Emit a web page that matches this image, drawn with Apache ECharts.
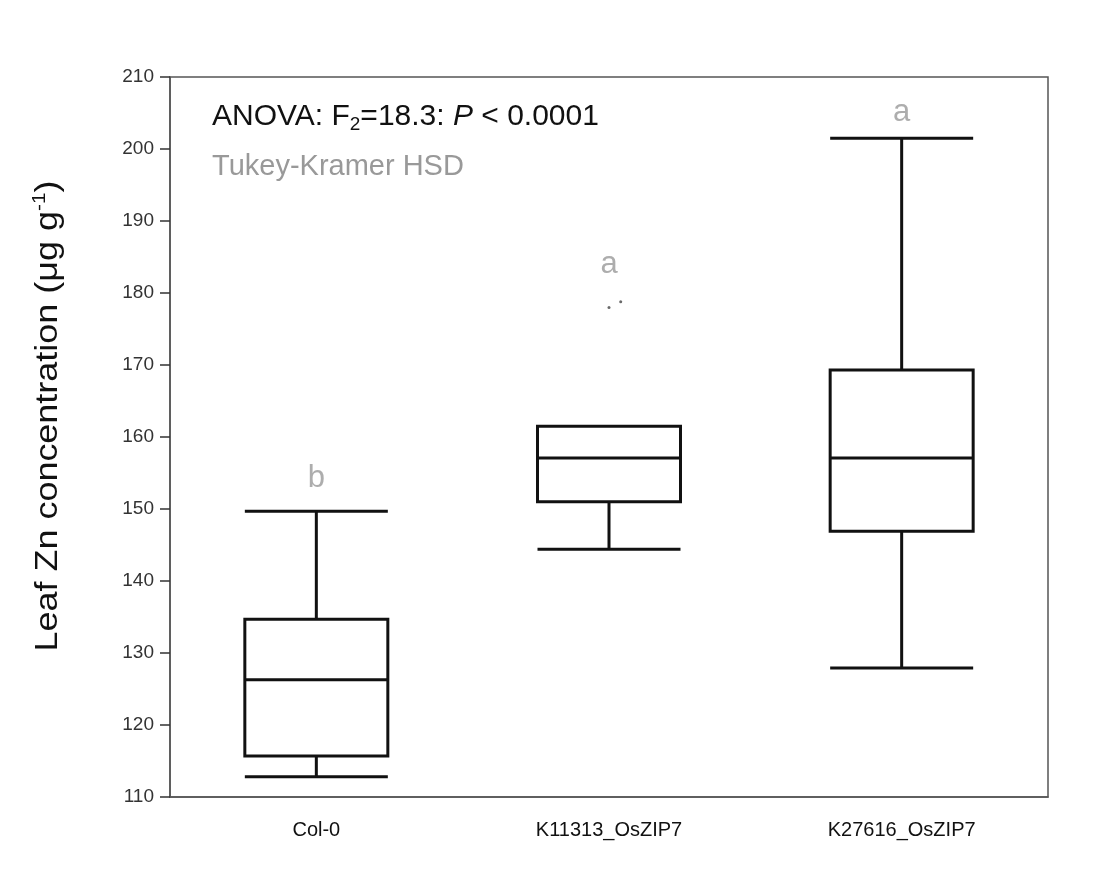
<!DOCTYPE html>
<html><head><meta charset="utf-8">
<script src="https://cdn.jsdelivr.net/npm/echarts@6/dist/echarts.min.js"></script>
<style>html,body{margin:0;padding:0;background:#fff;}#c{width:1118px;height:878px;}</style>
</head><body><div id="c"></div>
<script>
var categories = ['Col-0', 'K11313_OsZIP7', 'K27616_OsZIP7'];
// [lower whisker, Q1, median, Q3, upper whisker]
var boxStats = [
  [112.8, 115.7, 126.3, 134.7, 149.7],
  [144.4, 151.0, 157.1, 161.5, 161.5],
  [127.9, 146.9, 157.1, 169.3, 201.5]
];
// outliers: [position on category scale, value]
var outliers = [[1.0, 178.0], [1.04, 178.8]];
var groupLetters = ['b', 'a', 'a'];
var letterHeights = [154.3, 183.9, 205.1];
var yTicks = [110, 120, 130, 140, 150, 160, 170, 180, 190, 200, 210];

var chart = echarts.init(document.getElementById('c'), null, {renderer: 'canvas'});
var FONT = 'Liberation Sans';
chart.setOption({
  backgroundColor: '#ffffff',
  animation: false,
  textStyle: {fontFamily: FONT},
  grid: {left: 170, right: 70, top: 77, bottom: 81, show: true, borderColor: '#555', borderWidth: 1.5, backgroundColor: 'transparent'},
  xAxis: [{
    type: 'category', data: categories,
    axisLine: {lineStyle: {color: '#555', width: 1.5}},
    axisTick: {show: false},
    axisLabel: {color: '#111', fontSize: 20, margin: 23, fontFamily: FONT},
    splitLine: {show: false}
  }, {
    type: 'value', min: -0.5, max: 2.5, show: false
  }],
  yAxis: {
    type: 'value', min: yTicks[0], max: yTicks[yTicks.length - 1], interval: 10,
    axisLine: {show: true, onZero: false, lineStyle: {color: '#555', width: 1.5}},
    axisTick: {show: true, length: 10, lineStyle: {color: '#333', width: 1.5}},
    axisLabel: {color: '#333', fontSize: 19, margin: 16, fontFamily: FONT},
    splitLine: {show: false}
  },
  series: [{
    type: 'boxplot', data: boxStats,
    boxWidth: [143, 143],
    itemStyle: {color: '#ffffff', borderColor: '#111', borderWidth: 3},
    emphasis: {disabled: true}
  }, {
    type: 'scatter', xAxisIndex: 1, data: outliers,
    symbolSize: 3, itemStyle: {color: '#444'}
  }, {
    type: 'scatter', xAxisIndex: 0,
    data: categories.map(function (c, i) { return {value: [c, letterHeights[i]], label: {formatter: groupLetters[i]}}; }),
    symbolSize: 0,
    label: {show: true, position: 'inside', color: '#999', fontSize: 31, fontFamily: FONT}
  }],
  graphic: [{
    type: 'text', left: 212, top: 102,
    style: {
      text: '{n|ANOVA: F}{sub|2}{n|=18.3: }{i|P}{n| < 0.0001}',
      rich: {
        n: {fontSize: 30, fill: '#111', fontFamily: FONT},
        i: {fontSize: 30, fill: '#111', fontFamily: FONT, fontStyle: 'italic'},
        sub: {fontSize: 19, fill: '#111', fontFamily: FONT, verticalAlign: 'bottom', padding: [16, 0, 0, 0]}
      }
    }
  }, {
    type: 'text', left: 212, top: 152,
    style: {text: 'Tukey-Kramer HSD', fontSize: 29, fill: '#999', fontFamily: FONT}
  }, {
    type: 'text', x: 48, y: 416, rotation: Math.PI / 2, scaleX: 1.16,
    style: {
      text: '{m|Leaf Zn concentration (μg g}{s|-1}{m|)}',
      align: 'center', verticalAlign: 'middle',
      rich: {
        m: {fontSize: 31, fill: '#111', fontFamily: FONT},
        s: {fontSize: 18, fill: '#111', fontFamily: FONT, verticalAlign: 'top', padding: [0, 0, 16, 0]}
      }
    }
  }]
});
</script></body></html>
